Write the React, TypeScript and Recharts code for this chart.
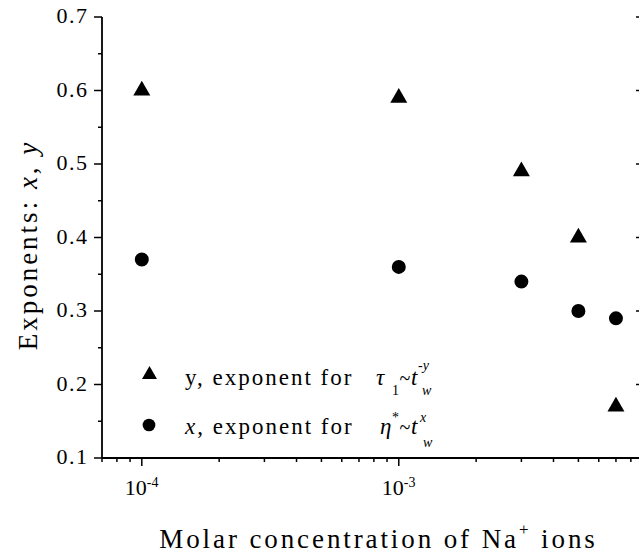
import React from 'react';
import { ScatterChart, Scatter, XAxis, YAxis, Legend, Symbols } from 'recharts';

// Molar concentration of Na+ (mol/L) and the two ageing exponents
const concentrations = [1e-4, 1e-3, 3e-3, 5e-3, 7e-3];
const exponentY = [0.6, 0.59, 0.49, 0.4, 0.17];
const exponentX = [0.37, 0.36, 0.34, 0.3, 0.29];

const xMajorTicks = [1e-4, 1e-3];
const xTicks = [
  7e-5, 8e-5, 9e-5, 1e-4, 2e-4, 3e-4, 4e-4, 5e-4, 6e-4, 7e-4, 8e-4, 9e-4,
  1e-3, 2e-3, 3e-3, 4e-3, 5e-3, 6e-3, 7e-3, 8e-3, 9e-3,
];
const yTicks = [0.1, 0.15, 0.2, 0.25, 0.3, 0.35, 0.4, 0.45, 0.5, 0.55, 0.6, 0.65, 0.7];
const yMajorTicks = [0.1, 0.2, 0.3, 0.4, 0.5, 0.6, 0.7];

const X_DOMAIN: [number, number] = [7e-5, 9e-3];
const Y_DOMAIN: [number, number] = [0.1, 0.7];

// only this family name came out as a serif face in the sandbox
const INK = '#000';
const serif = { fontFamily: 'Times New Roman' };

const yData = concentrations.map((c, i) => ({ c, v: exponentY[i] }));
const xData = concentrations.map((c, i) => ({ c, v: exponentX[i] }));

const near = (list: number[], v: number) => list.some((t) => Math.abs(t - v) <= Math.abs(t) * 1e-6);

const BottomTick = (props: any) => {
  const { x, y, payload } = props;
  const major = near(xMajorTicks, payload.value);
  const exp = Math.round(Math.log10(payload.value));
  return (
    <g>
      <line x1={x} x2={x} y1={y} y2={y + (major ? 8 : 4)} stroke={INK} strokeWidth={1.5} />
      {major && (
        <g style={serif} fill={INK}>
          <text x={x - 6} y={y + 37} textAnchor="middle" fontSize={22}>10</text>
          <text x={x + 5} y={y + 29} fontSize={14}>{exp}</text>
        </g>
      )}
    </g>
  );
};

const TopTick = (props: any) => {
  const { x, y, payload } = props;
  const major = near(xMajorTicks, payload.value);
  return <line x1={x} x2={x} y1={y} y2={y + (major ? 8 : 4)} stroke={INK} strokeWidth={1.5} />;
};

const LeftTick = (props: any) => {
  const { x, y, payload } = props;
  const major = near(yMajorTicks, payload.value);
  return (
    <g>
      <line x1={x - (major ? 8 : 4)} x2={x} y1={y} y2={y} stroke={INK} strokeWidth={1.5} />
      {major && (
        <text x={x - 13.5} y={y + 6} textAnchor="end" style={serif} fontSize={22} letterSpacing={1.5} fill={INK}>
          {payload.value.toFixed(1)}
        </text>
      )}
    </g>
  );
};

const RightTick = (props: any) => {
  const { x, y, payload } = props;
  const major = near(yMajorTicks, payload.value);
  return <line x1={x - (major ? 8 : 4)} x2={x} y1={y} y2={y} stroke={INK} strokeWidth={1.5} />;
};

const XTitle = (props: any) => {
  const vb = props.viewBox;
  return (
    <text
      x={vb.x + vb.width / 2 + 5.5}
      y={vb.y + 90}
      textAnchor="middle"
      style={serif}
      fontSize={27}
      letterSpacing={2.9}
      fill={INK}
    >
      Molar concentration of Na<tspan dy={-13} fontSize={17}>+</tspan>
      <tspan dy={13}> ions</tspan>
    </text>
  );
};

const YTitle = (props: any) => {
  const vb = props.viewBox;
  const cx = 37;
  const cy = vb.y + vb.height / 2 + 7.5;
  return (
    <text
      x={cx}
      y={cy}
      transform={`rotate(-90 ${cx} ${cy})`}
      textAnchor="middle"
      style={serif}
      fontSize={27}
      letterSpacing={3}
      fill={INK}
    >
      Exponents: <tspan fontStyle="italic">x</tspan>, <tspan fontStyle="italic">y</tspan>
    </text>
  );
};

const triangle = (p: any) => <Symbols cx={p.cx} cy={p.cy} type="triangle" size={125} fill={INK} />;
const circle = (p: any) => <Symbols cx={p.cx} cy={p.cy} type="circle" size={154} fill={INK} />;

const LegendBox = () => (
  <svg width={340} height={110} style={{ display: 'block' }}>
    <g style={serif} fill={INK}>
      <Symbols cx={19.5} cy={29.7} type="triangle" size={97} fill={INK} />
      <text x={55} y={40} fontSize={23} letterSpacing={2}>y, exponent for</text>
      <text x={246} y={40} fontSize={23} fontStyle="italic">τ</text>
      <text x={262} y={50} fontSize={14}>1</text>
      <text x={275} y={40} fontSize={20} textAnchor="middle">~</text>
      <text x={281} y={40} fontSize={23} fontStyle="italic">t</text>
      <text x={288} y={25} fontSize={14} fontStyle="italic">-y</text>
      <text x={292} y={50} fontSize={14} fontStyle="italic">w</text>

      <Symbols cx={19} cy={80} type="circle" size={127} fill={INK} />
      <text x={55} y={89} fontSize={23} letterSpacing={2}>
        <tspan fontStyle="italic">x</tspan>, exponent for
      </text>
      <text x={250} y={89} fontSize={23} fontStyle="italic">η</text>
      <text x={262} y={77} fontSize={14}>*</text>
      <text x={275} y={89} fontSize={20} textAnchor="middle">~</text>
      <text x={281} y={89} fontSize={23} fontStyle="italic">t</text>
      <text x={290} y={77} fontSize={14} fontStyle="italic">x</text>
      <text x={293} y={102} fontSize={14} fontStyle="italic">w</text>
    </g>
  </svg>
);

export default function App() {
  return (
    <div style={{ position: 'absolute', left: 0, top: 0, width: 639, height: 559, overflow: 'hidden', background: '#fff' }}>
      <ScatterChart width={670} height={559} margin={{ top: 17, right: 25, bottom: 0, left: 0 }}>
        <XAxis
          xAxisId="bottom"
          dataKey="c"
          type="number"
          scale="log"
          domain={X_DOMAIN}
          allowDataOverflow
          ticks={xTicks}
          interval={0}
          height={101}
          tickSize={0}
          tickMargin={0}
          tick={<BottomTick />}
          axisLine={{ stroke: INK, strokeWidth: 1.8 }}
          tickLine={false}
          label={{ content: XTitle }}
        />
        <XAxis
          xAxisId="top"
          orientation="top"
          dataKey="c"
          type="number"
          scale="log"
          domain={X_DOMAIN}
          allowDataOverflow
          ticks={xTicks}
          interval={0}
          height={0}
          tickSize={0}
          tickMargin={0}
          tick={<TopTick />}
          axisLine={{ stroke: INK, strokeWidth: 1.8 }}
          tickLine={false}
        />
        <YAxis
          yAxisId="left"
          dataKey="v"
          type="number"
          domain={Y_DOMAIN}
          allowDataOverflow
          ticks={yTicks}
          interval={0}
          width={102}
          tickSize={0}
          tickMargin={0}
          tick={<LeftTick />}
          axisLine={{ stroke: INK, strokeWidth: 1.8 }}
          tickLine={false}
          label={{ content: YTitle }}
        />
        <YAxis
          yAxisId="right"
          orientation="right"
          dataKey="v"
          type="number"
          domain={Y_DOMAIN}
          allowDataOverflow
          ticks={yTicks}
          interval={0}
          width={1}
          tickSize={0}
          tickMargin={0}
          tick={<RightTick />}
          axisLine={{ stroke: INK, strokeWidth: 1.8 }}
          tickLine={false}
        />
        <Scatter
          name="y"
          data={yData}
          xAxisId="bottom"
          yAxisId="left"
          shape={triangle}
          fill={INK}
          isAnimationActive={false}
        />
        <Scatter
          name="x"
          data={xData}
          xAxisId="bottom"
          yAxisId="left"
          shape={circle}
          fill={INK}
          isAnimationActive={false}
        />
        <Legend
          layout="vertical"
          align="center"
          verticalAlign="middle"
          wrapperStyle={{ left: 130, top: 345, width: 340, height: 110 }}
          content={LegendBox}
        />
      </ScatterChart>
    </div>
  );
}
